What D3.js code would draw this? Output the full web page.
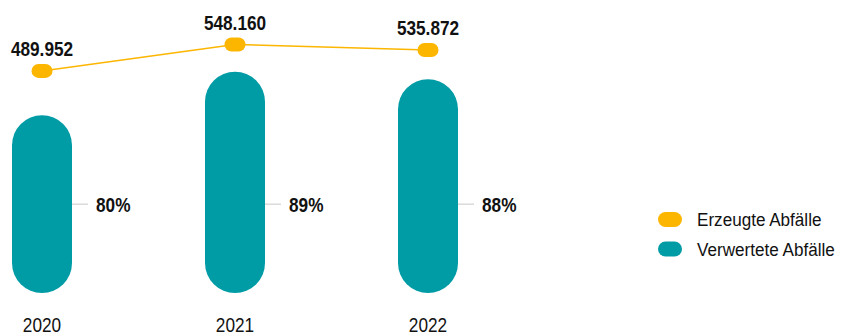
<!DOCTYPE html>
<html><head><meta charset="utf-8">
<script src="https://cdn.jsdelivr.net/npm/d3@7"></script>
<style>
body{margin:0;background:#fff;}
svg{display:block;}
text{font-family:"Liberation Sans Narrow","Arial Narrow","Liberation Sans",Arial,sans-serif;}
</style></head>
<body><svg id="c" width="849" height="336"></svg>
<script>
const years = ["2020","2021","2022"];
const produced = [489952, 548160, 535872];
const recycledShare = [80, 89, 88];
const producedLabels = ["489.952","548.160","535.872"];
const shareLabels = ["80%","89%","88%"];
const seriesNames = ["Erzeugte Abfälle","Verwertete Abfälle"];
const colors = ["#FDB600","#009CA6"];

const svg = d3.select("#c");
const x = d3.scalePoint().domain(years).range([42, 428]);
const y = d3.scaleLinear().domain([0, 548160]).range([293, 44.5]);
const barW = 60;
const NARROW = 0.82;

// text helper: condensed rendering via horizontal scale
function label(parent, px, py, str, size, weight, anchor, sx) {
  const g = parent.append("g").attr("transform", `translate(${px},${py}) scale(${sx||NARROW},1)`);
  g.append("text").attr("x",0).attr("y",0)
    .attr("text-anchor", anchor||"start")
    .attr("font-size", size).attr("font-weight", weight||"normal")
    .attr("fill","#111").text(str);
  return g;
}

const recycled = produced.map((p,i)=>p*recycledShare[i]/100);

// bars
svg.selectAll("rect.bar").data(years).enter().append("rect")
  .attr("x", d=>x(d)-barW/2).attr("width", barW)
  .attr("y", (d,i)=>y(recycled[i])).attr("height",(d,i)=>y(0)-y(recycled[i]))
  .attr("rx", barW/2).attr("ry", barW/2).attr("fill", colors[1]);

// percent labels with leader lines
const labelY = y(d3.min(recycled)/2);
svg.selectAll("line.lead").data(years).enter().append("line")
  .attr("x1", d=>x(d)+barW/2).attr("x2", d=>x(d)+barW/2+16)
  .attr("y1", labelY).attr("y2", labelY)
  .attr("stroke","#c8c8c8").attr("stroke-width",1);
years.forEach((d,i)=>label(svg, x(d)+barW/2+24, labelY+7.5, shareLabels[i], 21, "bold", "start"));

// line
const line = d3.line().x((d,i)=>x(years[i])).y(d=>y(d));
svg.append("path").datum(produced).attr("d", line)
  .attr("fill","none").attr("stroke",colors[0]).attr("stroke-width",1.5);
svg.selectAll("rect.mk").data(produced).enter().append("rect")
  .attr("x",(d,i)=>x(years[i])-10.5).attr("y",d=>y(d)-7)
  .attr("width",21).attr("height",14).attr("rx",7).attr("ry",7)
  .attr("fill",colors[0]);
produced.forEach((d,i)=>label(svg, x(years[i]), y(d)-15, producedLabels[i], 21, "bold", "middle"));

// x axis labels
years.forEach(d=>label(svg, x(d), 332, d, 21, "normal", "middle"));

// legend
const lg = svg.append("g").attr("transform","translate(658,212)");
seriesNames.forEach((n,i)=>{
  const g = lg.append("g").attr("transform",`translate(0,${i*29.5})`);
  g.append("rect").attr("width",24).attr("height",15).attr("rx",7.5).attr("ry",7.5).attr("fill",colors[i]);
  label(g, 39, 14, n, 19, "normal", "start", 0.9);
});
</script></body></html>
